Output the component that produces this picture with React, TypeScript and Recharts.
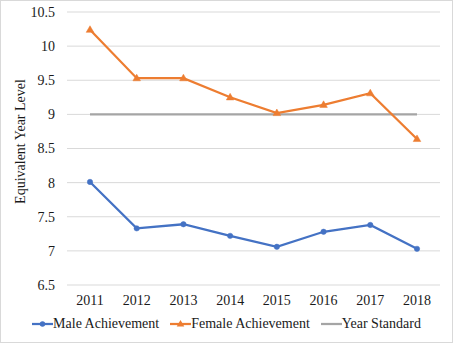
import React from 'react';
import { LineChart, Line, XAxis, YAxis, CartesianGrid, Legend } from 'recharts';

const years = ['2011', '2012', '2013', '2014', '2015', '2016', '2017', '2018'];
const maleAchievement = [8.01, 7.33, 7.39, 7.22, 7.06, 7.28, 7.38, 7.03];
const femaleAchievement = [10.24, 9.53, 9.53, 9.25, 9.02, 9.14, 9.31, 8.64];
const yearStandard = [9, 9, 9, 9, 9, 9, 9, 9];
const yTicks = [6.5, 7, 7.5, 8, 8.5, 9, 9.5, 10, 10.5];

const data = years.map((y, i) => ({
  year: y,
  male: maleAchievement[i],
  female: femaleAchievement[i],
  standard: yearStandard[i],
}));

const BLUE = '#4472C4';
const ORANGE = '#ED7D31';
const GREY = '#A5A5A5';
const FONT = '"Liberation Serif", "Times New Roman", serif';
const TEXT = '#1a1a1a';

const Triangle = (props: any) => {
  const { cx, cy } = props;
  if (cx == null || cy == null) return null;
  return <polygon points={`${cx},${cy - 4} ${cx + 3.8},${cy + 2.6} ${cx - 3.8},${cy + 2.6}`} fill={ORANGE} stroke={ORANGE} strokeWidth={0.5} />;
};

const Circle = (props: any) => {
  const { cx, cy } = props;
  if (cx == null || cy == null) return null;
  return <circle cx={cx} cy={cy} r={2.7} fill={BLUE} stroke={BLUE} strokeWidth={0.5} />;
};

const YLabel = (props: any) => {
  const vb = props.viewBox || { x: 0, y: 12, width: 67, height: 273 };
  const x = vb.x + 20.5;
  const y = vb.y + vb.height / 2 - 7;
  return (
    <text x={x} y={y} transform={`rotate(-90, ${x}, ${y})`} textAnchor="middle" dominantBaseline="central" fontFamily={FONT} fontSize={14} fill={TEXT}>
      Equivalent Year Level
    </text>
  );
};

const legendItems = [
  { label: 'Male Achievement', color: BLUE, marker: 'circle' },
  { label: 'Female Achievement', color: ORANGE, marker: 'triangle' },
  { label: 'Year Standard', color: GREY, marker: 'none' },
];

const LegendContent = () => (
  <div style={{ display: 'flex', justifyContent: 'center', alignItems: 'center', height: 22, gap: 11, fontFamily: FONT, fontSize: 14, color: TEXT }}>
    {legendItems.map((it) => (
      <div key={it.label} style={{ display: 'flex', alignItems: 'center' }}>
        <svg width={21} height={10} style={{ marginRight: 0 }}>
          <line x1={0} y1={5} x2={21} y2={5} stroke={it.color} strokeWidth={2.25} />
          {it.marker === 'circle' && <circle cx={10.5} cy={5} r={2.7} fill={it.color} />}
          {it.marker === 'triangle' && <polygon points="10.5,1 14.3,7.6 6.7,7.6" fill={it.color} />}
        </svg>
        <span>{it.label}</span>
      </div>
    ))}
  </div>
);

export default function App() {
  return (
    <div style={{ position: 'absolute', left: 0, top: 0, width: 453, height: 343, background: '#fff' }}>
      <LineChart width={453} height={343} data={data} margin={{ top: 12, right: 13, bottom: 8, left: 0 }}>
        <CartesianGrid vertical={false} stroke="#d9d9d9" strokeWidth={1} />
        <XAxis
          dataKey="year"
          axisLine={false}
          tickLine={false}
          height={28}
          tickMargin={4}
          padding={{ left: 23, right: 23 }}
          tick={{ fontFamily: FONT, fontSize: 14, fill: TEXT }}
          interval={0}
        />
        <YAxis
          domain={[6.5, 10.5]}
          ticks={yTicks}
          axisLine={false}
          tickLine={false}
          width={67}
          tickMargin={6}
          interval={0}
          tick={{ fontFamily: FONT, fontSize: 14, fill: TEXT }}
          label={<YLabel />}
        />
        <Legend verticalAlign="bottom" content={<LegendContent />} wrapperStyle={{ width: 453, left: 0 }} />
        <Line dataKey="standard" stroke={GREY} strokeWidth={2.25} dot={false} isAnimationActive={false} />
        <Line dataKey="male" stroke={BLUE} strokeWidth={2.25} dot={<Circle />} activeDot={false} isAnimationActive={false} />
        <Line dataKey="female" stroke={ORANGE} strokeWidth={2.25} dot={<Triangle />} activeDot={false} isAnimationActive={false} />
      </LineChart>
      <div style={{ position: 'absolute', inset: 0, border: '1px solid #d9d9d9', pointerEvents: 'none' }} />
    </div>
  );
}
